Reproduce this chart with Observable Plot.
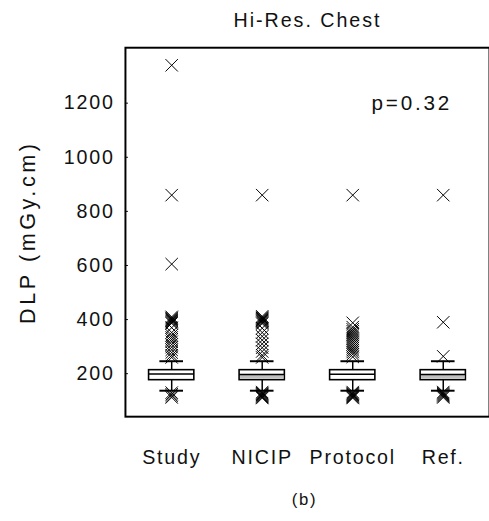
<!DOCTYPE html>
<html>
<head>
<meta charset="utf-8">
<script src="https://cdn.jsdelivr.net/npm/d3@7"></script>
<script src="https://cdn.jsdelivr.net/npm/@observablehq/plot@0.6"></script>
<style>
  html, body { margin: 0; padding: 0; background: #fff; overflow: hidden; }
  svg text { letter-spacing: 1.8px; }
</style>
</head>
<body>
<div id="chart"></div>
<script>
// ---- data ----
const groups = ["Study", "NICIP", "Protocol", "Ref."];
const q1 = [176, 176, 176, 176];
const median = [199, 197, 198, 197];
const q3 = [213, 213, 213, 213];
const whiskerLo = [137, 137, 137, 137];
const whiskerHi = [246, 246, 246, 246];
const lowerHalfShaded = [false, true, false, true];

const outliersStudy = [1340, 860, 605, 410, 406, 403, 400, 397, 394, 390, 386, 370, 352, 342, 334, 326, 318, 308, 298, 288, 278, 268, 260, 130, 124, 118, 112];
const outliersNICIP = [860, 412, 408, 405, 402, 399, 396, 393, 389, 385, 368, 352, 338, 324, 310, 296, 282, 268, 260, 132, 128, 125, 122, 119, 116, 113, 110];
const outliersProtocol = [860, 388, 372, 364, 357, 350, 343, 336, 329, 322, 315, 308, 301, 294, 287, 280, 272, 262, 132, 128, 125, 122, 119, 116, 113, 110];
const outliersRef = [860, 390, 264, 132, 128, 124, 120, 116, 112];

const title = "Hi-Res. Chest";
const yLabel = "DLP (mGy.cm)";
const pText = "p=0.32";
const subLabel = "(b)";
const yTicks = [200, 400, 600, 800, 1000, 1200];

// ---- build tables ----
const stats = groups.map((g, i) => ({
  group: g, q1: q1[i], median: median[i], q3: q3[i],
  lo: whiskerLo[i], hi: whiskerHi[i], shaded: lowerHalfShaded[i]
}));
const outlierLists = [outliersStudy, outliersNICIP, outliersProtocol, outliersRef];
const outliers = outlierLists.flatMap((list, i) => list.map(v => ({group: groups[i], value: v})));

const FONT = "Liberation Sans, Arial, sans-serif";
const INK = "#111";

const chart = Plot.plot({
  width: 497,
  height: 521,
  marginLeft: 127,
  marginRight: 0,
  marginTop: 48,
  marginBottom: 98,
  style: {fontFamily: FONT, fontSize: "20px", color: INK, background: "#fff", overflow: "visible"},
  x: {type: "band", domain: groups, padding: 0, label: null},
  y: {domain: [41, 1405], label: null},
  marks: [
    Plot.frame({stroke: "#000", strokeWidth: 2}),
    // whiskers
    Plot.ruleX(stats, {x: "group", y1: "q3", y2: "hi", stroke: "#000", strokeWidth: 1.5}),
    Plot.ruleX(stats, {x: "group", y1: "lo", y2: "q1", stroke: "#000", strokeWidth: 1.5}),
    Plot.tickY(stats, {x: "group", y: "hi", stroke: "#000", strokeWidth: 2, insetLeft: 34, insetRight: 34}),
    Plot.tickY(stats, {x: "group", y: "lo", stroke: "#000", strokeWidth: 2, insetLeft: 34, insetRight: 34}),
    // boxes
    Plot.barY(stats, {x: "group", y1: "q1", y2: "q3", fill: "#fff", stroke: "#000", strokeWidth: 1.6, insetLeft: 23, insetRight: 23}),
    Plot.barY(stats.filter(d => d.shaded), {x: "group", y1: "q1", y2: "median", fill: "#c0c0c0", insetLeft: 24, insetRight: 24, insetBottom: 1}),
    Plot.tickY(stats, {x: "group", y: "median", stroke: "#000", strokeWidth: 1.5, insetLeft: 23, insetRight: 23}),
    // outliers
    Plot.dot(outliers, {x: "group", y: "value", symbol: "times", r: 5.8, stroke: "#000", strokeWidth: 1}),
    // axes
    Plot.axisY({ticks: yTicks, tickFormat: d => String(d), tickSize: -3, tickPadding: 14, fontSize: 20, fontFamily: FONT, label: null, stroke: "#000", fill: INK}),
    Plot.axisX({tickSize: 0, tickPadding: 34, fontSize: 20, fontFamily: FONT, label: null, fill: INK}),
    // annotations
    Plot.text([pText], {x: ["Protocol"], y: [1200], dx: 60, text: d => d, fontSize: 21, fontFamily: FONT, fill: INK}),
    Plot.text([title], {frameAnchor: "top", dx: 0, dy: -35, text: d => d, fontSize: 20, fontFamily: FONT, fill: INK}),
    Plot.text([yLabel], {frameAnchor: "left", textAnchor: "middle", dx: -99, rotate: -90, text: d => d, fontSize: 22, fontFamily: FONT, fill: INK}),
    Plot.text([subLabel], {frameAnchor: "bottom", dx: -3, dy: 90, text: d => d, fontSize: 17, fontFamily: FONT, fill: INK})
  ]
});

// per-text letter spacing to mimic the wide bitmap font of the original
const spacing = new Map([[yLabel, "3.6px"], [pText, "2.8px"], [title, "2px"]]);
d3.select(chart).selectAll("text").each(function () {
  const s = spacing.get(this.textContent);
  if (s) this.style.letterSpacing = s;
});
document.getElementById("chart").appendChild(chart);
</script>
</body>
</html>
